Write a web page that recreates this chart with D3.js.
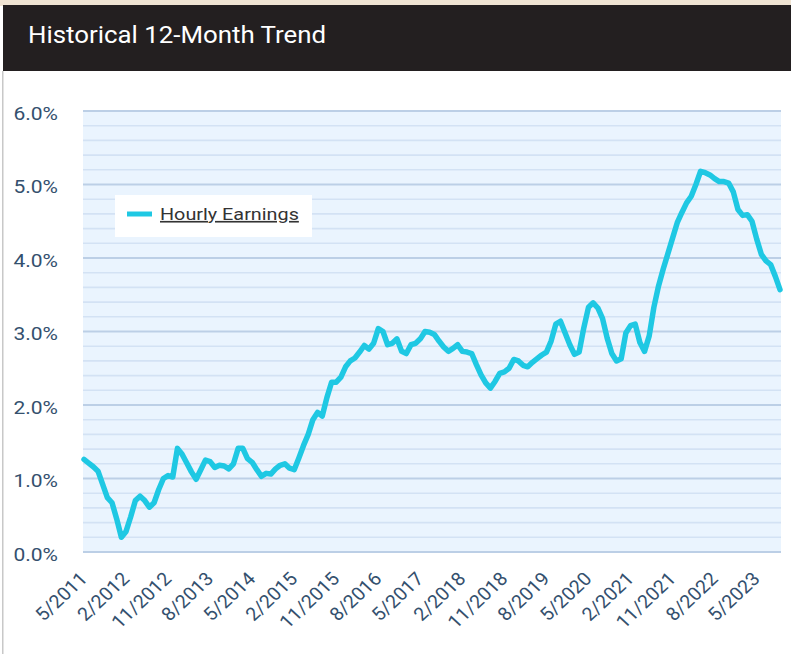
<!DOCTYPE html>
<html>
<head>
<meta charset="utf-8">
<script src="https://cdn.jsdelivr.net/npm/d3@7"></script>
<style>
  html, body { margin: 0; padding: 0; background: #ffffff; }
  svg { display: block; font-family: Roboto, "Open Sans", sans-serif; }
</style>
</head>
<body>
<svg id="chart" width="791" height="654"></svg>
<script>
// ---- data ----
const title = "Historical 12-Month Trend";
const seriesName = "Hourly Earnings";
const startYear = 2011, startMonth = 5; // first observation: 5/2011
const hourlyEarnings = [
  1.26, 1.21, 1.16, 1.10, 0.92, 0.74, 0.67, 0.45, 0.20, 0.28,
  0.48, 0.70, 0.76, 0.70, 0.61, 0.67, 0.85, 1.00, 1.04, 1.02,
  1.41, 1.33, 1.21, 1.09, 0.99, 1.12, 1.25, 1.23, 1.15, 1.18,
  1.17, 1.13, 1.20, 1.41, 1.41, 1.27, 1.22, 1.12, 1.03, 1.07,
  1.06, 1.13, 1.18, 1.20, 1.14, 1.12, 1.28, 1.45, 1.60, 1.80,
  1.90, 1.85, 2.10, 2.31, 2.31, 2.38, 2.52, 2.60, 2.64, 2.72,
  2.81, 2.76, 2.84, 3.04, 3.00, 2.82, 2.84, 2.90, 2.73, 2.70,
  2.82, 2.84, 2.90, 3.00, 2.99, 2.96, 2.87, 2.79, 2.73, 2.77,
  2.82, 2.73, 2.72, 2.70, 2.55, 2.41, 2.30, 2.23, 2.32, 2.43,
  2.45, 2.50, 2.62, 2.60, 2.54, 2.52, 2.58, 2.63, 2.68, 2.72,
  2.87, 3.10, 3.14, 2.98, 2.82, 2.69, 2.72, 3.05, 3.33, 3.39,
  3.32, 3.18, 2.91, 2.70, 2.60, 2.63, 2.98, 3.08, 3.10, 2.85,
  2.73, 2.94, 3.33, 3.62, 3.85, 4.06, 4.27, 4.48, 4.62, 4.75,
  4.84, 5.00, 5.18, 5.16, 5.13, 5.08, 5.04, 5.04, 5.02, 4.90,
  4.66, 4.58, 4.59, 4.50, 4.26, 4.05, 3.96, 3.91, 3.75, 3.57
];
const xTickLabels = ["5/2011","2/2012","11/2012","8/2013","5/2014","2/2015","11/2015","8/2016",
  "5/2017","2/2018","11/2018","8/2019","5/2020","2/2021","11/2021","8/2022","5/2023"];
const yTicks = [0, 1, 2, 3, 4, 5, 6];
const yMinorTicks = d3.range(0, 6.0001, 0.2).map(v => +v.toFixed(1));

// month categories
const months = hourlyEarnings.map((_, i) => {
  const m0 = startMonth - 1 + i;
  return `${(m0 % 12) + 1}/${startYear + Math.floor(m0 / 12)}`;
});
const data = months.map((m, i) => ({ month: m, value: hourlyEarnings[i] }));

// ---- layout ----
const svg = d3.select("#chart");
const W = 791, H = 654;
const plot = { left: 83, right: 781, top: 111, bottom: 552 };
const labelColor = "#34506e";

// top strip + header
svg.append("rect").attr("x", 0).attr("y", 0).attr("width", W).attr("height", 6).attr("fill", "#efe3d2");
svg.append("rect").attr("x", 3).attr("y", 5).attr("width", W - 3).attr("height", 66).attr("fill", "#231f20");
svg.append("text").attr("transform", "translate(28,43) scale(1.1,1)").attr("fill", "#ffffff")
  .attr("font-size", 23.5).attr("font-family", "Roboto, sans-serif").text(title);
// left border
svg.append("rect").attr("x", 2).attr("y", 71).attr("width", 1.5).attr("height", H - 71).attr("fill", "#c8c8c8");

// scales
const x = d3.scalePoint().domain(months).range([84, 780]);
const y = d3.scaleLinear().domain([0, 6]).range([plot.bottom, plot.top]);

// plot background
svg.append("rect").attr("x", plot.left).attr("y", y(6))
  .attr("width", plot.right - plot.left).attr("height", y(0) - y(6)).attr("fill", "#eaf4fe");

// minor grid
svg.append("g").selectAll("line").data(yMinorTicks.filter(v => Math.abs(v - Math.round(v)) > 1e-6))
  .join("line")
  .attr("x1", plot.left).attr("x2", plot.right)
  .attr("y1", d => y(d)).attr("y2", d => y(d))
  .attr("stroke", "#d3e2f4").attr("stroke-width", 1.6);
// major grid
svg.append("g").selectAll("line").data(yTicks)
  .join("line")
  .attr("x1", plot.left).attr("x2", plot.right)
  .attr("y1", d => y(d)).attr("y2", d => y(d))
  .attr("stroke", "#bccfe6").attr("stroke-width", 2);

// y axis labels
const yAxis = d3.axisLeft(y).tickValues(yTicks).tickFormat(d => d.toFixed(1) + "%").tickSize(0).tickPadding(0);
const gy = svg.append("g").attr("transform", `translate(58,0)`).call(yAxis);
gy.select(".domain").remove();
gy.selectAll("text").attr("font-size", 17.5).attr("fill", labelColor)
  .attr("font-family", "Roboto, sans-serif").attr("x", 0).attr("dy", "0.35em")
  .attr("transform", "translate(0,2) scale(1.2,1)");

// x axis labels
const xAxis = d3.axisBottom(x).tickValues(xTickLabels).tickSize(0).tickPadding(0);
const gx = svg.append("g").attr("transform", `translate(0,${plot.bottom + 28})`).call(xAxis);
gx.select(".domain").remove();
gx.selectAll("text")
  .attr("font-size", 18.5).attr("fill", labelColor).attr("font-family", "Roboto, sans-serif")
  .attr("text-anchor", "end").attr("y", 0).attr("dy", 0)
  .attr("transform", "translate(4,0) scale(1.07,1) rotate(-45)");

// line
const line = d3.line().x(d => x(d.month)).y(d => y(d.value)).curve(d3.curveLinear);
svg.append("path").datum(data).attr("d", line)
  .attr("fill", "none").attr("stroke", "#1fc8e3").attr("stroke-width", 5.5)
  .attr("stroke-linejoin", "round").attr("stroke-linecap", "round");

// legend
const lg = svg.append("g");
lg.append("rect").attr("x", 115).attr("y", 195).attr("width", 197).attr("height", 42).attr("fill", "#ffffff");
lg.append("line").attr("x1", 127).attr("x2", 152).attr("y1", 214).attr("y2", 214)
  .attr("stroke", "#1fc8e3").attr("stroke-width", 5);
lg.append("text").attr("transform", "translate(160,220) scale(1.2,1)").attr("font-size", 16.5).attr("fill", "#333333")
  .attr("font-family", "Roboto, sans-serif").attr("text-decoration", "underline").text(seriesName);
</script>
</body>
</html>
